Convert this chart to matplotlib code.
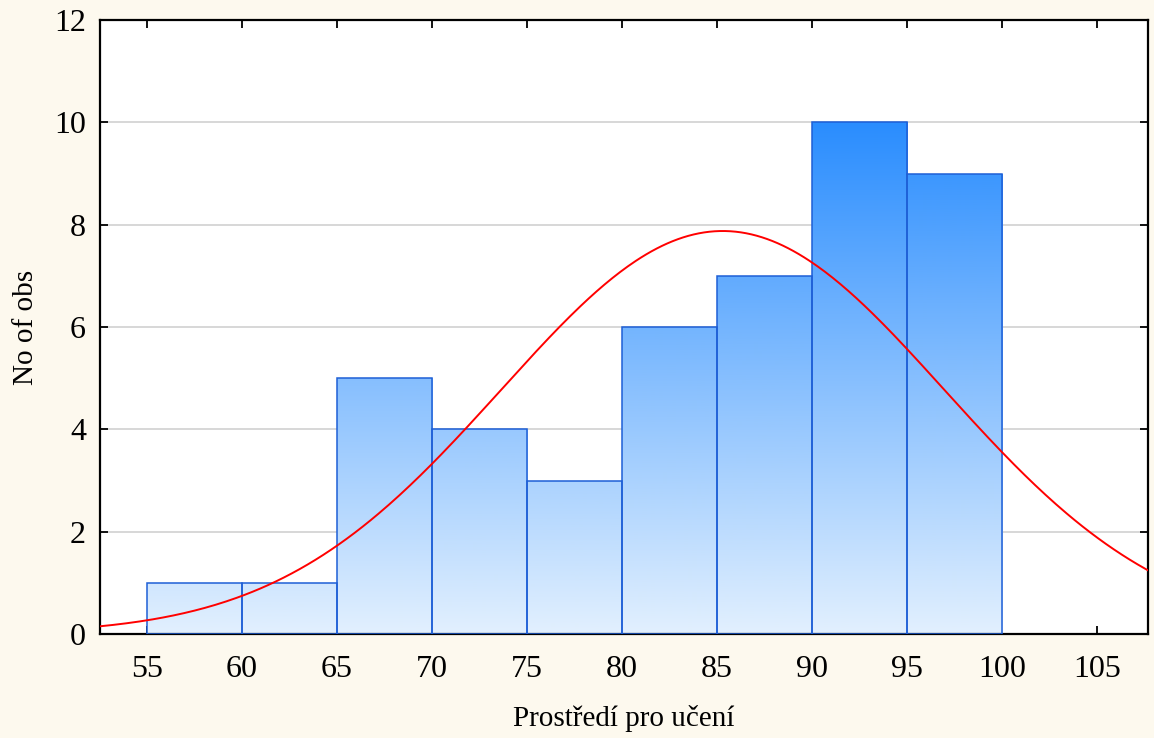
import numpy as np
import matplotlib

matplotlib.use("Agg")
import matplotlib.pyplot as plt
from matplotlib.colors import LinearSegmentedColormap

# histogram bins (lower edges) and counts
bin_edges = [55, 60, 65, 70, 75, 80, 85, 90, 95, 100]
counts = [1, 1, 5, 4, 3, 6, 7, 10, 9]
# fitted normal curve parameters
fit_mean = 85.3
fit_sd = 11.65
n_obs = sum(counts)
bin_width = 5

x_ticks = [55, 60, 65, 70, 75, 80, 85, 90, 95, 100, 105]
y_ticks = [0, 2, 4, 6, 8, 10, 12]

plt.rcParams["font.family"] = ["Liberation Serif", "DejaVu Serif"]

fig = plt.figure(figsize=(11.54, 7.38), dpi=100, facecolor="#fdf9ee")
ax = fig.add_axes([100 / 1154, 1 - 634 / 738, 1048 / 1154, 614 / 738])
ax.set_facecolor("white")
xmin, xmax = 52.53, 107.68
ax.set_xlim(xmin, xmax)
ax.set_ylim(0, 12)

for y in y_ticks[1:-1]:
    ax.axhline(y, color="#d4d4d4", lw=1.3, zorder=0)

cmap = LinearSegmentedColormap.from_list("bars", ["#e2f0fe", "#2a8dfe"])
grad = np.linspace(0, 1, 256).reshape(-1, 1)
for left, c in zip(bin_edges[:-1], counts):
    rect = plt.Rectangle((left, 0), bin_width, c, facecolor="none",
                         edgecolor="#1e5fd6", lw=1.1, zorder=3)
    ax.add_patch(rect)
    im = ax.imshow(grad, cmap=cmap, aspect="auto", origin="lower",
                   extent=(xmin, xmax, 0, 10), zorder=2, interpolation="bilinear")
    im.set_clip_path(rect)

xs = np.linspace(xmin, xmax, 400)
ys = n_obs * bin_width / (fit_sd * np.sqrt(2 * np.pi)) * np.exp(-0.5 * ((xs - fit_mean) / fit_sd) ** 2)
ax.plot(xs, ys, color="#ff0000", lw=1.4, zorder=4)

ax.set_xticks(x_ticks)
ax.set_yticks(y_ticks)
ax.tick_params(direction="in", length=6, width=1.3, labelsize=23,
               top=True, right=True)
ax.tick_params(axis="x", pad=15)
ax.tick_params(axis="y", pad=10)
for s in ax.spines.values():
    s.set_linewidth(1.6)

ax.set_xlabel("Prostředí pro učení", fontsize=21, labelpad=15)
ax.set_ylabel("No of obs", fontsize=21, labelpad=11)

fig.savefig("out.png", dpi=100, facecolor=fig.get_facecolor())
